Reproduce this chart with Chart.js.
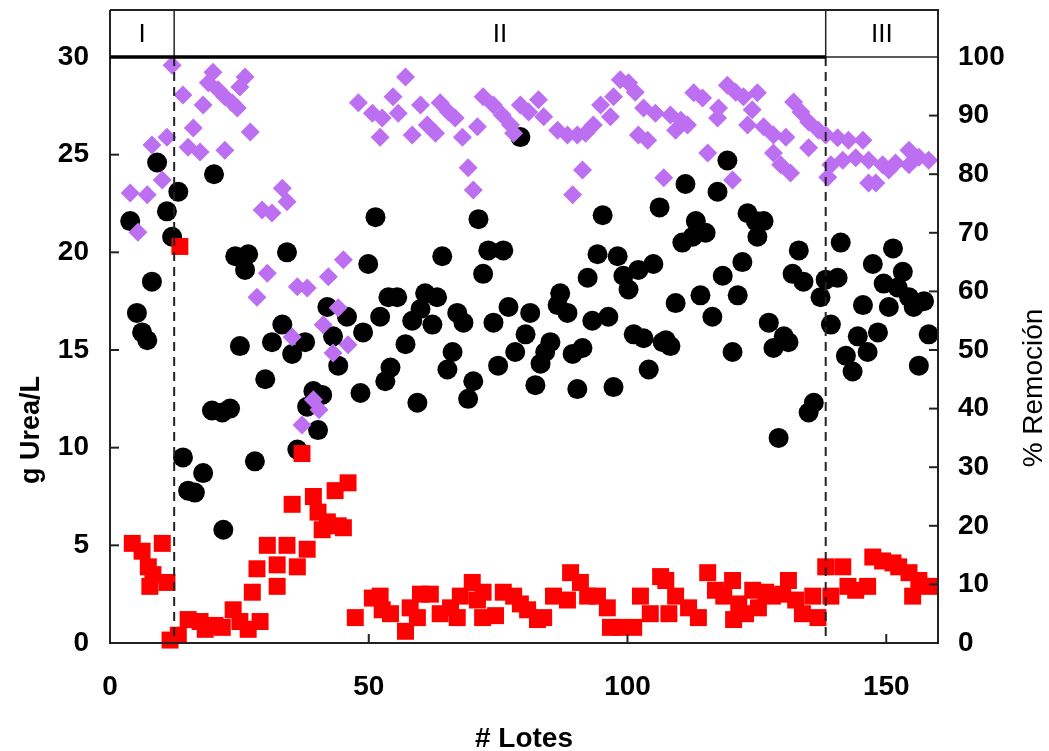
<!DOCTYPE html>
<html>
<head>
<meta charset="utf-8">
<script src="https://cdn.jsdelivr.net/npm/chart.js@4/dist/chart.umd.min.js"></script>
<style>
  html, body { margin: 0; background: #fff; }
  #wrap { width: 1049px; height: 751px; }
</style>
</head>
<body>
<div id="wrap"><canvas id="chart" width="1049" height="751"></canvas></div>
<script>
// Ticks
const xTicks = [0, 50, 100, 150];
const ureaTicks = [0, 5, 10, 15, 20, 25, 30];
const remocionTicks = [0, 10, 20, 30, 40, 50, 60, 70, 80, 90, 100];

// Phases (lote where each phase ends)
const phaseLabels = ['I', 'II', 'III'];
const phaseLimits = [12.4, 138.3];

// Urea inicial (black circles, g Urea/L)
const entradaLotes = [3.9, 5.2, 6.2, 7.2, 8.1, 9.1, 11.0, 12.0, 13.2, 14.1, 15.1, 16.4, 18.0, 19.7, 20.1, 21.7, 21.9, 23.2, 24.2, 25.1,
  26.1, 26.7, 28.0, 30.0, 31.3, 33.3, 34.2, 35.2, 36.2, 37.7, 38.1, 39.3, 40.2, 41.0, 42.0, 43.1, 44.1, 45.8, 48.4, 48.9,
  49.9, 51.3, 52.2, 53.2, 53.8, 54.2, 55.5, 57.1, 58.4, 59.4, 60.0, 60.9, 62.3, 63.2, 64.2, 65.2, 66.2, 67.1, 68.3, 69.2,
  70.2, 71.2, 72.1, 73.1, 74.1, 75.0, 76.0, 77.0, 78.3, 79.3, 80.3, 81.2, 82.2, 83.2, 84.1, 85.1, 86.5, 87.0, 88.4, 89.4,
  90.3, 91.3, 92.3, 93.2, 94.2, 95.2, 96.3, 97.3, 98.1, 99.2, 100.2, 101.2, 102.1, 103.1, 104.1, 105.0, 106.2, 106.8, 107.4, 108.3,
  109.3, 110.6, 111.2, 112.6, 113.2, 114.1, 115.1, 116.4, 117.4, 118.4, 119.3, 120.3, 121.3, 122.2, 123.2, 124.8, 125.1, 126.3, 127.3, 128.2,
  129.2, 130.2, 131.1, 131.9, 133.1, 134.0, 135.0, 136.0, 137.3, 138.3, 139.3, 140.6, 141.2, 142.2, 143.5, 144.5, 145.5, 146.4, 147.4, 148.4,
  149.5, 150.5, 151.3, 152.2, 153.2, 154.4, 155.3, 156.3, 157.3, 158.2];
const entradaUrea = [21.6, 16.9, 15.9, 15.5, 18.5, 24.6, 22.1, 20.8, 23.1, 9.5, 7.8, 7.7, 8.7, 11.9, 24.0, 11.8, 5.8, 12.0, 19.8, 15.2,
  19.1, 19.9, 9.3, 13.5, 15.4, 16.3, 20.0, 14.8, 9.9, 15.4, 12.1, 12.9, 10.9, 12.7, 17.2, 15.7, 14.2, 16.7, 12.8, 15.9,
  19.4, 21.8, 16.7, 13.4, 17.7, 14.1, 17.7, 15.3, 16.5, 12.3, 17.1, 17.9, 16.3, 17.7, 19.8, 14.0, 14.9, 16.9, 16.4, 12.5,
  13.4, 21.7, 18.9, 20.1, 16.4, 14.2, 20.1, 17.2, 14.9, 25.9, 15.8, 16.9, 13.2, 14.3, 14.9, 15.4, 17.3, 17.9, 16.9, 14.8,
  13.0, 15.1, 18.7, 16.5, 19.9, 21.9, 16.7, 13.1, 19.8, 18.8, 18.1, 15.8, 19.1, 15.6, 14.0, 19.4, 22.3, 15.4, 15.5, 15.2,
  17.4, 20.5, 23.5, 20.8, 21.6, 17.8, 21.0, 16.7, 23.1, 18.8, 24.7, 14.9, 17.8, 19.5, 22.0, 21.6, 20.8, 21.6, 16.4, 15.1,
  10.5, 15.7, 15.4, 18.9, 20.1, 18.5, 11.8, 12.3, 17.7, 18.6, 16.3, 18.7, 20.5, 14.7, 13.9, 15.7, 17.3, 14.9, 19.4, 15.9,
  18.4, 17.2, 20.2, 18.2, 19.0, 17.7, 17.2, 14.2, 17.5, 15.8];

// Urea final (red squares, g Urea/L)
const salidaLotes = [4.3, 6.2, 7.4, 7.7, 8.3, 10.1, 11.0, 11.6, 13.2, 13.5, 15.1, 17.4, 18.4, 20.3, 21.7, 23.8, 25.1, 26.7, 27.5, 28.4,
  29.0, 30.4, 32.3, 32.3, 34.2, 35.2, 36.2, 37.1, 38.1, 39.3, 40.2, 41.0, 42.0, 43.5, 44.1, 45.1, 46.0, 47.4, 50.7, 52.2,
  52.6, 54.2, 57.1, 58.0, 59.4, 60.0, 61.9, 63.8, 65.8, 67.1, 67.7, 70.0, 71.0, 72.0, 72.1, 74.5, 76.0, 78.0, 79.3, 80.7,
  82.6, 83.8, 85.7, 88.4, 89.0, 90.9, 92.3, 94.2, 96.1, 96.7, 98.6, 101.2, 102.5, 104.4, 106.4, 107.4, 108.0, 109.3, 111.8, 113.7,
  115.5, 117.0, 118.6, 120.3, 120.5, 121.5, 122.8, 124.2, 125.3, 126.7, 128.0, 130.0, 131.1, 132.5, 133.8, 135.8, 136.8, 138.3, 139.3, 141.6,
  142.6, 144.1, 146.4, 147.4, 149.3, 151.3, 152.4, 154.4, 155.1, 156.3, 158.2];
const salidaUrea = [5.1, 4.7, 3.9, 2.9, 3.5, 5.1, 3.1, 0.15, 0.4, 20.3, 1.2, 1.1, 0.7, 0.9, 0.8, 1.7, 1.1, 0.7, 2.6, 3.8,
  1.1, 5.0, 4.0, 2.9, 5.0, 7.1, 3.9, 9.7, 4.8, 7.5, 6.7, 5.8, 6.2, 7.8, 6.0, 5.9, 8.2, 1.3, 2.3, 2.4,
  1.7, 1.5, 0.6, 1.8, 1.3, 2.5, 2.5, 1.5, 1.8, 1.3, 2.4, 3.1, 2.2, 1.3, 2.6, 1.4, 2.6, 2.4, 2.0, 1.7,
  1.2, 1.3, 2.4, 2.2, 3.6, 3.1, 2.4, 2.4, 1.8, 0.8, 0.8, 0.8, 2.4, 1.5, 3.4, 3.2, 1.5, 2.4, 1.8, 1.3,
  3.6, 2.7, 2.4, 3.2, 1.2, 2.0, 1.5, 2.7, 1.8, 2.6, 2.4, 2.5, 3.2, 2.2, 1.5, 2.4, 1.3, 3.9, 2.4, 3.9,
  2.9, 2.7, 2.9, 4.4, 4.2, 4.1, 3.9, 3.6, 2.4, 3.2, 2.9];

// % Remoción (violet diamonds, right axis)
const remocionLotes = [3.9, 5.4, 7.2, 8.1, 10.1, 11.0, 12.0, 14.1, 15.1, 16.1, 17.4, 18.0, 19.0, 19.9, 20.9, 22.2, 22.2, 23.6, 24.6, 25.1,
  26.1, 27.1, 28.4, 29.4, 30.4, 31.3, 33.3, 34.2, 35.2, 36.2, 37.1, 38.1, 39.3, 40.4, 41.2, 42.2, 43.1, 44.1, 45.1, 46.0,
  48.0, 50.7, 52.2, 52.6, 54.7, 55.7, 57.1, 58.4, 60.0, 61.3, 62.9, 63.8, 65.4, 66.7, 68.1, 69.2, 70.2, 71.0, 72.1, 74.1,
  75.8, 77.4, 78.0, 79.3, 80.9, 82.8, 83.8, 86.5, 88.4, 89.4, 90.3, 91.3, 91.9, 93.4, 94.8, 96.7, 97.3, 98.6, 100.2, 101.5,
  102.1, 103.1, 103.9, 105.4, 107.0, 108.3, 109.3, 110.3, 111.6, 112.8, 114.5, 115.5, 117.4, 117.6, 119.3, 120.3, 120.9, 122.4, 123.2, 124.1,
  125.1, 126.3, 128.2, 128.2, 129.6, 130.6, 131.5, 132.1, 133.5, 135.0, 135.0, 136.9, 138.3, 138.7, 139.3, 140.6, 141.6, 142.7, 144.1, 145.5,
  146.6, 146.6, 148.0, 149.3, 150.5, 151.8, 154.4, 154.4, 156.3, 158.2];
const remocionPct = [76.8, 70.1, 76.5, 85.0, 79.0, 86.3, 98.6, 93.5, 84.6, 87.9, 83.8, 91.8, 95.6, 97.4, 94.4, 93.2, 84.1, 92.2, 91.3, 94.9,
  96.6, 87.2, 59.0, 73.9, 63.1, 73.4, 77.6, 75.3, 52.2, 60.8, 37.2, 60.6, 41.5, 39.8, 54.3, 62.5, 49.5, 57.2, 65.4, 50.9,
  92.2, 90.4, 86.3, 89.6, 93.2, 90.4, 96.6, 86.7, 91.8, 88.4, 87.0, 92.2, 90.6, 89.6, 86.3, 81.1, 77.3, 88.1, 93.2, 91.8,
  90.1, 88.4, 87.0, 91.8, 90.6, 92.7, 89.8, 87.5, 86.7, 76.5, 86.7, 80.7, 87.0, 88.4, 91.8, 89.8, 93.2, 96.1, 95.6, 94.0,
  86.7, 91.3, 85.8, 90.4, 79.4, 90.1, 87.5, 89.2, 88.4, 93.9, 93.0, 83.6, 89.6, 91.3, 95.2, 79.0, 94.0, 93.2, 88.4, 91.0,
  93.9, 88.1, 86.7, 83.6, 81.6, 86.3, 80.2, 92.3, 90.6, 88.9, 84.5, 87.5, 86.7, 79.5, 81.6, 86.2, 82.4, 85.8, 82.8, 85.8,
  82.4, 78.5, 78.5, 81.6, 80.7, 81.9, 84.1, 81.6, 82.9, 82.4];

const toPoints = (xs, ys) => xs.map((x, i) => ({ x: x, y: ys[i] }));

const FRAME = '#222';
const tickFont = { family: "'Liberation Sans', Arial, sans-serif", size: 28, weight: 'bold' };

// Frame, phase band, dashed limits, inward ticks and axis titles
const decor = {
  id: 'decor',
  afterDatasetsDraw(chart) {
    const ctx = chart.ctx;
    const a = chart.chartArea;
    const sx = chart.scales.x, sy = chart.scales.y, sy2 = chart.scales.y2;
    const lim = phaseLimits.map(v => sx.getPixelForValue(v));
    const bandTop = 10;
    ctx.save();

    // dashed phase limits
    ctx.strokeStyle = '#222';
    ctx.lineWidth = 2;
    ctx.setLineDash([9, 6]);
    lim.forEach(px => {
      ctx.beginPath();
      ctx.moveTo(px, a.top);
      ctx.lineTo(px, a.bottom);
      ctx.stroke();
    });
    ctx.setLineDash([]);

    // frame
    ctx.strokeStyle = FRAME;
    ctx.lineWidth = 2;
    ctx.beginPath();
    ctx.moveTo(a.left, bandTop);
    ctx.lineTo(a.left, a.bottom);
    ctx.lineTo(a.right, a.bottom);
    ctx.lineTo(a.right, bandTop);
    ctx.lineTo(a.left, bandTop);
    ctx.stroke();
    ctx.lineWidth = 1.5;
    lim.forEach(px => {
      ctx.beginPath();
      ctx.moveTo(px, bandTop);
      ctx.lineTo(px, a.top);
      ctx.stroke();
    });
    ctx.beginPath();
    ctx.moveTo(lim[1], a.top);
    ctx.lineTo(a.right, a.top);
    ctx.stroke();
    ctx.lineWidth = 3.5;
    ctx.strokeStyle = '#000';
    ctx.beginPath();
    ctx.moveTo(a.left, a.top);
    ctx.lineTo(lim[1], a.top);
    ctx.stroke();

    // phase labels
    const edges = [a.left, lim[0], lim[1], a.right];
    ctx.fillStyle = '#000';
    ctx.font = "26px 'Liberation Sans', Arial, sans-serif";
    ctx.textAlign = 'center';
    ctx.textBaseline = 'middle';
    phaseLabels.forEach((t, i) => {
      ctx.fillText(t, (edges[i] + edges[i + 1]) / 2, (bandTop + a.top) / 2 + 1);
    });

    // inward ticks
    ctx.strokeStyle = FRAME;
    ctx.lineWidth = 2;
    const tl = 9;
    xTicks.forEach(v => {
      if (v <= sx.min) return;
      const px = sx.getPixelForValue(v);
      ctx.beginPath(); ctx.moveTo(px, a.bottom); ctx.lineTo(px, a.bottom - tl); ctx.stroke();
    });
    ureaTicks.forEach(v => {
      if (v <= sy.min || v >= sy.max) return;
      const py = sy.getPixelForValue(v);
      ctx.beginPath(); ctx.moveTo(a.left, py); ctx.lineTo(a.left + tl, py); ctx.stroke();
    });
    remocionTicks.forEach(v => {
      if (v <= sy2.min || v >= sy2.max) return;
      const py = sy2.getPixelForValue(v);
      ctx.beginPath(); ctx.moveTo(a.right, py); ctx.lineTo(a.right - tl, py); ctx.stroke();
    });

    // axis titles
    ctx.fillStyle = '#000';
    ctx.textAlign = 'center';
    ctx.textBaseline = 'middle';
    ctx.font = "bold 28px 'Liberation Sans', Arial, sans-serif";
    ctx.fillText('# Lotes', (a.left + a.right) / 2, 739);
    ctx.save();
    ctx.translate(32, 430);
    ctx.rotate(-Math.PI / 2);
    ctx.font = "bold 27px 'Liberation Sans', Arial, sans-serif";
    ctx.fillText('g Urea/L', 0, 0);
    ctx.restore();
    ctx.save();
    ctx.translate(1034, 388);
    ctx.rotate(-Math.PI / 2);
    ctx.font = "28px 'Liberation Sans', Arial, sans-serif";
    ctx.fillText('% Remoción', 0, 0);
    ctx.restore();

    ctx.restore();
  }
};

new Chart(document.getElementById('chart'), {
  type: 'scatter',
  data: {
    datasets: [
      {
        label: '% Remoción',
        data: toPoints(remocionLotes, remocionPct),
        yAxisID: 'y2',
        pointStyle: 'rectRot',
        pointRadius: 9.5,
        pointHoverRadius: 9.5,
        backgroundColor: '#bd6ff2',
        borderColor: '#bd6ff2',
        borderWidth: 0,
        clip: false
      },
      {
        label: 'Urea final',
        data: toPoints(salidaLotes, salidaUrea),
        yAxisID: 'y',
        pointStyle: 'rect',
        pointRadius: 12,
        pointHoverRadius: 12,
        backgroundColor: '#ff0000',
        borderColor: '#ff0000',
        borderWidth: 0,
        clip: false
      },
      {
        label: 'Urea inicial',
        data: toPoints(entradaLotes, entradaUrea),
        yAxisID: 'y',
        pointStyle: 'circle',
        pointRadius: 10,
        pointHoverRadius: 10,
        backgroundColor: '#000000',
        borderColor: '#000000',
        borderWidth: 0,
        clip: false
      }
    ]
  },
  options: {
    responsive: false,
    animation: false,
    devicePixelRatio: 1,
    layout: { padding: { top: 57, left: 0, right: 0, bottom: 0 } },
    plugins: { legend: { display: false }, tooltip: { enabled: false } },
    scales: {
      x: {
        type: 'linear',
        min: 0,
        max: 160,
        grid: { display: false, drawTicks: false },
        border: { display: false },
        afterBuildTicks: s => { s.ticks = xTicks.map(v => ({ value: v })); },
        afterFit: s => { s.height = 108; },
        ticks: { color: '#000', font: tickFont, padding: 27, maxRotation: 0 }
      },
      y: {
        position: 'left',
        min: 0,
        max: 30,
        grid: { display: false, drawTicks: false },
        border: { display: false },
        afterBuildTicks: s => { s.ticks = ureaTicks.map(v => ({ value: v })); },
        afterFit: s => { s.width = 110; },
        ticks: { color: '#000', font: tickFont, padding: 21 }
      },
      y2: {
        position: 'right',
        min: 0,
        max: 100,
        grid: { display: false, drawTicks: false },
        border: { display: false },
        afterBuildTicks: s => { s.ticks = remocionTicks.map(v => ({ value: v })); },
        afterFit: s => { s.width = 111; },
        ticks: { color: '#000', font: tickFont, padding: 20 }
      }
    }
  },
  plugins: [decor]
});
</script>
</body>
</html>
